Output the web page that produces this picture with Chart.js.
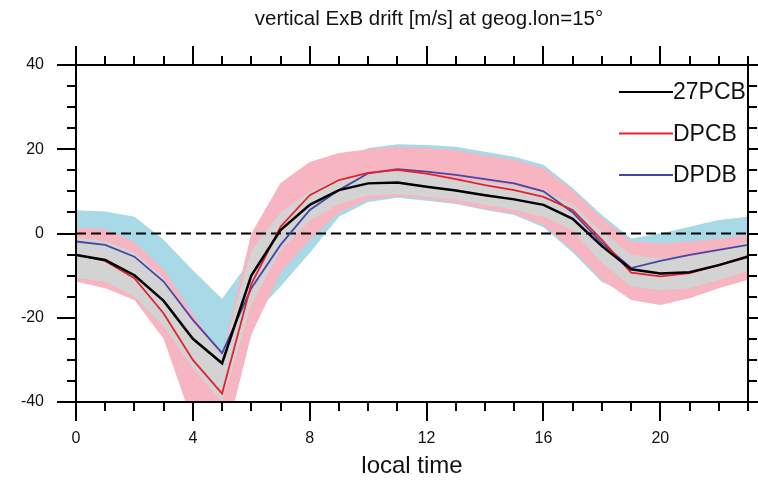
<!DOCTYPE html>
<html>
<head>
<meta charset="utf-8">
<script src="https://cdn.jsdelivr.net/npm/chart.js@4.4.1/dist/chart.umd.min.js"></script>
<style>
html,body{margin:0;padding:0;background:#fff;}
canvas{display:block;}
</style>
</head>
<body>
<canvas id="c" width="758" height="485"></canvas>
<script>
const titleText = 'vertical ExB drift [m/s] at geog.lon=15°';
const xAxisTitle = 'local time';
const hours = [0,1,2,3,4,5,6,7,8,9,10,11,12,13,14,15,16,17,18,19,20,21,22,23];
const xTickLabels = [0,4,8,12,16,20];
const yTickLabels = [-40,-20,0,20,40];
const seriesNames = ['27PCB','DPCB','DPDB'];

const pcb27 = [-5.1,-6.3,-9.9,-16,-25,-30.8,-10,0.8,6.8,10.3,11.9,12.1,11.1,10.2,9.1,8.1,6.8,3.5,-3,-8.5,-9.5,-9.2,-7.5,-5.5];
const dpcb  = [-5,-6.5,-10.6,-19,-30,-38,-12,1.6,9.1,12.7,14.4,15.1,14.2,12.9,11.5,10.3,8.7,5.6,-1.5,-9.3,-10.2,-9.4,-7.5,-5.3];
const dpdb  = [-1.9,-2.7,-5.5,-11.4,-20.5,-28.4,-13,-2.7,5.6,10.3,14.3,15.3,14.7,13.9,12.9,11.9,10,5,-2.3,-8.2,-6.5,-5.1,-3.9,-2.7];

const pcb27Upper = [-1,-1.8,-4.5,-10.5,-21,-29,-4,5,10,13,14.5,14.8,14,13.2,12.2,11.2,9.8,7,0.5,-5,-6,-5.5,-4,-2];
const pcb27Lower = [-10.5,-11.5,-15,-22,-32,-40,-17,-4,3,7,9,9.3,8.7,8,6.8,5.6,4,0.8,-7,-12.5,-13.5,-13,-11,-9];
const dpcbUpper  = [1.5,1,-2,-8.5,-19,-29,0,12,17,19.1,20,20.6,20.3,19.8,18.6,17.5,15.5,10.3,3.7,-1.9,-2.3,-1.9,-1.2,-0.4];
const dpcbLower  = [-11.4,-13,-15.8,-25,-45,-52,-24,-9.4,-1.5,5,8,8.8,8.2,7.2,5.8,4.6,2,-4,-11,-15.8,-17,-15.4,-13,-11];
const dpdbUpper  = [5.5,5.2,4,-1.5,-8.7,-15.5,-6,7,12,17,20.3,21.2,21,20.6,19.4,18.2,16.3,10.8,4.4,-1.2,0,1.6,3.2,4];
const dpdbLower  = [-9,-10,-13,-20,-30,-40,-20,-12.6,-4.6,4,7.5,8.5,7.8,7,5.6,4.4,1.5,-4.5,-11.5,-14.5,-14,-12,-10,-9];
const zeroLine = [0,0];
const zeroHours = [0,23];

const COL_BLACK = '#000000', COL_RED = '#e8202e', COL_BLUE = '#4646a6';
const COL_GRAY = '#d3d3d3', COL_PINK = '#f7b4c1', COL_LBLUE = '#a8d9e6';
const FONT = '"Liberation Sans", Arial, Helvetica, sans-serif';

const pts = (xs, ys) => ys.map((y, i) => ({x: xs[i], y}));
const band = (data, color, fill, order) => ({
  data: pts(hours, data), borderWidth: 0, borderColor: 'rgba(0,0,0,0)',
  backgroundColor: color, pointRadius: 0, fill: fill, order: order, tension: 0
});
const line = (name, data, color, width, order) => ({
  label: name, data: pts(hours, data), borderColor: color, borderWidth: width,
  pointRadius: 0, fill: false, order: order, tension: 0
});

const frameTicks = {
  id: 'frameTicks',
  afterDatasetsDraw(chart) {
    const {ctx, chartArea: a, scales: {x, y}} = chart;
    ctx.save();
    ctx.strokeStyle = '#000';
    ctx.lineWidth = 2;
    ctx.lineCap = 'butt';
    ctx.strokeRect(a.left, a.top, a.right - a.left, a.bottom - a.top);
    const minor = 9, major = 19;
    ctx.beginPath();
    hours.forEach(h => {
      const px = Math.round(x.getPixelForValue(h));
      const L = xTickLabels.includes(h) ? major : minor;
      ctx.moveTo(px, a.bottom); ctx.lineTo(px, a.bottom + L);
      ctx.moveTo(px, a.top); ctx.lineTo(px, a.top - L);
    });
    for (let v = y.min; v <= y.max; v += 5) {
      const py = Math.round(y.getPixelForValue(v));
      const L = yTickLabels.includes(v) ? major : minor;
      ctx.moveTo(a.left, py); ctx.lineTo(a.left - L, py);
      ctx.moveTo(a.right, py); ctx.lineTo(a.right + L, py);
    }
    ctx.stroke();

    // legend
    const colors = [COL_BLACK, COL_RED, COL_BLUE];
    ctx.font = '23px ' + FONT;
    ctx.textBaseline = 'middle';
    ctx.textAlign = 'left';
    seriesNames.forEach((name, i) => {
      const ly = a.top + 27 + i * 41.5;
      ctx.strokeStyle = colors[i];
      ctx.lineWidth = 2;
      ctx.beginPath();
      ctx.moveTo(a.right - 129, ly); ctx.lineTo(a.right - 75, ly);
      ctx.stroke();
      ctx.fillStyle = '#111';
      ctx.fillText(name, a.right - 75, ly + 1);
    });

    // title
    ctx.font = '20.5px ' + FONT;
    ctx.textAlign = 'center';
    ctx.fillStyle = '#111';
    ctx.fillText(titleText, (a.left + a.right) / 2 + 17, 19);
    ctx.restore();
  }
};

new Chart(document.getElementById('c'), {
  type: 'line',
  data: {
    datasets: [
      line(seriesNames[0], pcb27, COL_BLACK, 2.5, 0),
      line(seriesNames[1], dpcb, COL_RED, 1.8, 1),
      line(seriesNames[2], dpdb, COL_BLUE, 1.8, 2),
      {label: 'zero', data: pts(zeroHours, zeroLine), borderColor: COL_BLACK, borderWidth: 2, borderDash: [10, 5], pointRadius: 0, fill: false, order: 3},
      band(pcb27Upper, COL_GRAY, '+1', 4),
      band(pcb27Lower, COL_GRAY, false, 4),
      band(dpcbUpper, COL_PINK, '+1', 5),
      band(dpcbLower, COL_PINK, false, 5),
      band(dpdbUpper, COL_LBLUE, '+1', 6),
      band(dpdbLower, COL_LBLUE, false, 6)
    ]
  },
  options: {
    responsive: false,
    animation: false,
    devicePixelRatio: 1,
    layout: {padding: {top: 65, right: 10, left: 0, bottom: 0}},
    plugins: {legend: {display: false}, tooltip: {enabled: false}, title: {display: false}},
    scales: {
      x: {
        type: 'linear', min: 0, max: 23,
        grid: {display: false, drawTicks: false},
        border: {display: false},
        afterBuildTicks: s => { s.ticks = xTickLabels.map(v => ({value: v})); },
        afterFit: s => { s.height = 83; },
        ticks: {padding: 27, color: '#111', font: {family: FONT, size: 16}, maxRotation: 0, autoSkip: false},
        title: {display: true, text: xAxisTitle, color: '#111', font: {family: FONT, size: 24}, padding: {top: 0, bottom: 4}}
      },
      y: {
        type: 'linear', min: -40, max: 40,
        grid: {display: false, drawTicks: false},
        border: {display: false},
        afterBuildTicks: s => { s.ticks = yTickLabels.map(v => ({value: v})); },
        afterFit: s => { s.width = 76; },
        ticks: {padding: 32, color: '#111', font: {family: FONT, size: 16}}
      }
    }
  },
  plugins: [frameTicks]
});
</script>
</body>
</html>
